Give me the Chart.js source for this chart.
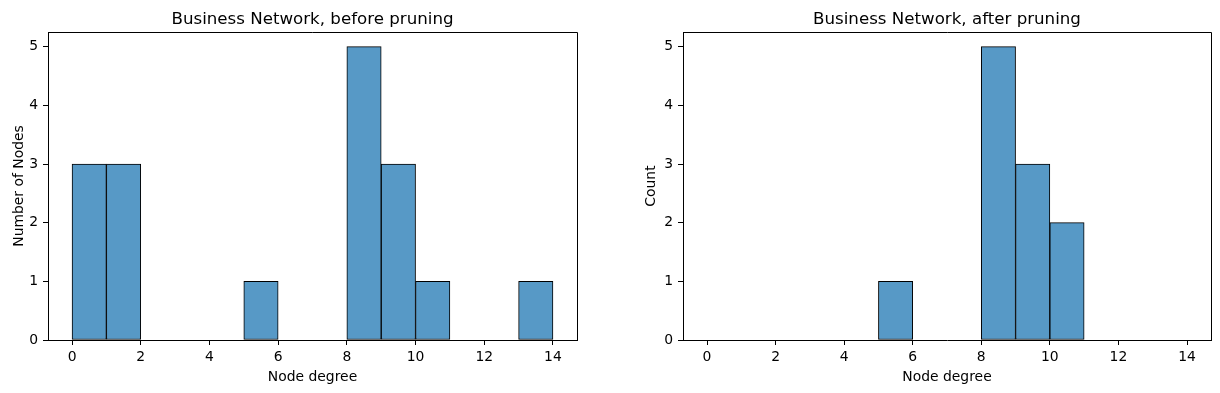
<!DOCTYPE html>
<html>
<head>
<meta charset="utf-8">
<script src="https://cdn.jsdelivr.net/npm/chart.js@4/dist/chart.umd.min.js"></script>
<style>
  html, body { margin: 0; padding: 0; background: #fff; }
  body { width: 1220px; height: 393px; position: relative; overflow: hidden; }
  .box { position: absolute; top: 0; width: 610px; height: 393px; }
  #b1 { left: 0; }
  #b2 { left: 610px; }
</style>
</head>
<body>
<div class="box" id="b1"><canvas id="c1" width="610" height="393"></canvas></div>
<div class="box" id="b2"><canvas id="c2" width="610" height="393"></canvas></div>
<script>
// ---- data ----
const binCenters = [0.5, 1.5, 2.5, 3.5, 4.5, 5.5, 6.5, 7.5, 8.5, 9.5, 10.5, 11.5, 12.5, 13.5];
const countsBefore = [3, 3, 0, 0, 0, 1, 0, 0, 5, 3, 1, 0, 0, 1];
const countsAfter  = [0, 0, 0, 0, 0, 1, 0, 0, 5, 3, 2, 0, 0, 0];
const xTickValues = [0, 2, 4, 6, 8, 10, 12, 14];
const yTickValues = [0, 1, 2, 3, 4, 5];
const titleBefore = 'Business Network, before pruning';
const titleAfter = 'Business Network, after pruning';
const xLabel = 'Node degree';
const yLabelBefore = 'Number of Nodes';
const yLabelAfter = 'Count';

const FONT = "'DejaVu Sans', 'Liberation Sans', sans-serif";
Chart.defaults.color = '#000';
Chart.defaults.font.family = FONT;

const framePlugin = {
  id: 'frame',
  afterDatasetsDraw(chart) {
    const {ctx, chartArea: a} = chart;
    ctx.save();
    ctx.strokeStyle = '#000';
    ctx.lineWidth = 1;
    ctx.beginPath();
    ctx.moveTo(a.left, a.top + 0.5);
    ctx.lineTo(a.right + 0.5, a.top + 0.5);
    ctx.lineTo(a.right + 0.5, a.bottom);
    ctx.stroke();
    ctx.restore();
  }
};

function makeChart(id, counts, title, yLabel, yWidth, padRight, yTitlePad) {
  return new Chart(document.getElementById(id), {
    type: 'bar',
    data: {
      datasets: [{
        data: binCenters.map((c, i) => ({x: c, y: counts[i]})),
        backgroundColor: '#5799c6',
        borderColor: '#000',
        borderWidth: 1,
        borderSkipped: false,
        barPercentage: 1,
        categoryPercentage: 1,
        grouped: false
      }]
    },
    options: {
      responsive: false,
      animation: false,
      events: [],
      layout: { padding: { left: 0, right: padRight, top: 0, bottom: 0 } },
      plugins: {
        legend: { display: false },
        tooltip: { enabled: false },
        title: {
          display: true,
          fullSize: false,
          text: title,
          color: '#000',
          font: { family: FONT, size: 16.67, weight: 'normal' },
          padding: { top: 9.4, bottom: 2.6 }
        }
      },
      scales: {
        x: {
          type: 'linear',
          min: -0.7,
          max: 14.7,
          offset: false,
          afterBuildTicks: s => { s.ticks = xTickValues.map(v => ({value: v})); },
          afterFit: s => { s.height = 53; },
          ticks: {
            font: { family: FONT, size: 13.9 },
            color: '#000',
            padding: 4,
            maxRotation: 0,
            autoSkip: false,
            callback: v => String(v)
          },
          grid: {
            display: true,
            drawOnChartArea: false,
            drawTicks: true,
            tickLength: 5,
            tickColor: '#000',
            tickWidth: 1,
            offset: false
          },
          border: { display: true, color: '#000', width: 1 },
          title: {
            display: true,
            text: xLabel,
            color: '#000',
            font: { family: FONT, size: 13.9 },
            padding: { top: 0, bottom: 7.4 }
          }
        },
        y: {
          type: 'linear',
          min: 0,
          max: 5.25,
          afterBuildTicks: s => { s.ticks = yTickValues.map(v => ({value: v})); },
          afterFit: s => { s.width = yWidth; },
          ticks: {
            font: { family: FONT, size: 13.9 },
            color: '#000',
            padding: 5,
            callback: v => String(v)
          },
          grid: {
            display: true,
            drawOnChartArea: false,
            drawTicks: true,
            tickLength: 5,
            tickColor: '#000',
            tickWidth: 1
          },
          border: { display: true, color: '#000', width: 1 },
          title: {
            display: true,
            text: yLabel,
            color: '#000',
            font: { family: FONT, size: 13.9 },
            padding: { top: yTitlePad, bottom: 0 }
          }
        }
      }
    },
    plugins: [framePlugin]
  });
}

makeChart('c1', countsBefore, titleBefore, yLabelBefore, 48, 33, 11);
makeChart('c2', countsAfter, titleAfter, yLabelAfter, 73, 9, 33.5);
</script>
</body>
</html>
